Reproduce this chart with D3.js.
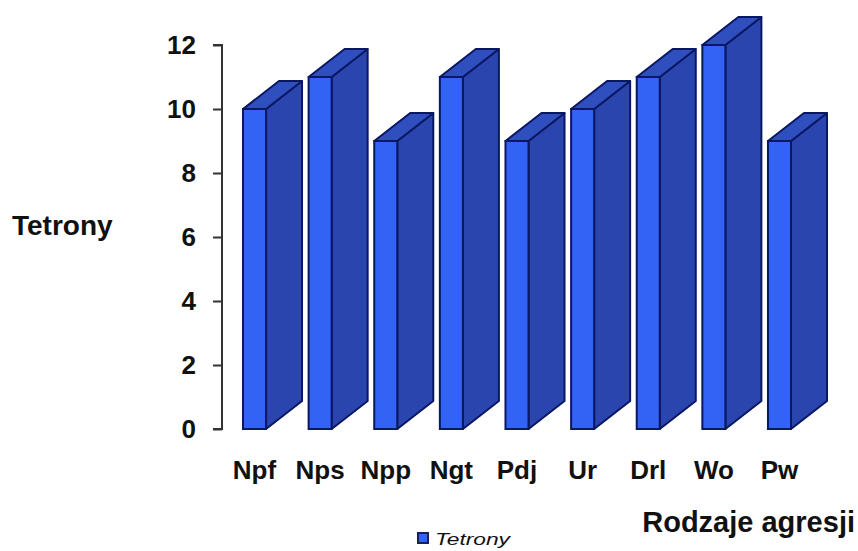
<!DOCTYPE html>
<html>
<head>
<meta charset="utf-8">
<script src="https://cdn.jsdelivr.net/npm/d3@7"></script>
<style>
  body { margin: 0; background: #fff; }
  text { font-family: Arial, "Liberation Sans", sans-serif; }
</style>
</head>
<body>
<script>
// dane
const categories = ["Npf", "Nps", "Npp", "Ngt", "Pdj", "Ur", "Drl", "Wo", "Pw"];
const values = [10, 11, 9, 11, 9, 10, 11, 12, 9];
const yTicks = [0, 2, 4, 6, 8, 10, 12];
const seriesName = "Tetrony";

const width = 858, height = 551;
const depthX = 36, depthY = 28;

const svg = d3.select("body")
  .append("svg")
  .attr("width", width)
  .attr("height", height);

const x = d3.scaleBand()
  .domain(categories)
  .range([243, 791])
  .paddingInner(0.649)
  .paddingOuter(0);

const y = d3.scaleLinear()
  .domain([0, 12])
  .range([429, 45]);

// oś Y
const yAxis = svg.append("g")
  .attr("transform", "translate(222,0)")
  .call(d3.axisLeft(y).tickValues(yTicks).tickSize(9).tickPadding(17));
yAxis.select(".domain").attr("stroke", "#333").attr("stroke-width", 2).attr("d", `M-9,${y(12)}H0V${y(0)}H-9`);
yAxis.selectAll(".tick line").attr("stroke", "#333").attr("stroke-width", 2);
yAxis.selectAll(".tick text")
  .attr("fill", "#111")
  .style("font-size", "26px")
  .style("font-weight", "bold")
  .style("font-family", "Arial, 'Liberation Sans', sans-serif");

// słupki 3D
const bars = svg.append("g")
  .selectAll("g")
  .data(categories.map((c, i) => ({ cat: c, val: values[i] })))
  .enter()
  .append("g");

const outline = "#0a1764";

// ściana boczna
bars.append("path")
  .attr("fill", "#2a45ad")
  .attr("stroke", outline)
  .attr("stroke-width", 2)
  .attr("stroke-linejoin", "round")
  .attr("d", (d) => {
    const x1 = x(d.cat) + x.bandwidth();
    return `M${x1},${y(d.val)}L${x1 + depthX},${y(d.val) - depthY}L${x1 + depthX},${y(0) - depthY}L${x1},${y(0)}Z`;
  });

// góra
bars.append("path")
  .attr("fill", "#2f4fbf")
  .attr("stroke", outline)
  .attr("stroke-width", 2)
  .attr("stroke-linejoin", "round")
  .attr("d", (d) => {
    const x0 = x(d.cat), x1 = x0 + x.bandwidth();
    const yt = y(d.val);
    return `M${x0},${yt}L${x0 + depthX},${yt - depthY}L${x1 + depthX},${yt - depthY}L${x1},${yt}Z`;
  });

// przód
bars.append("rect")
  .attr("x", (d) => x(d.cat))
  .attr("y", (d) => y(d.val))
  .attr("width", x.bandwidth())
  .attr("height", (d) => y(0) - y(d.val))
  .attr("fill", "#3263f4")
  .attr("stroke", outline)
  .attr("stroke-width", 2);

// etykiety kategorii
svg.append("g")
  .selectAll("text")
  .data(categories)
  .enter()
  .append("text")
  .attr("x", (d) => x(d) + x.bandwidth() / 2)
  .attr("y", 479)
  .attr("text-anchor", "middle")
  .attr("fill", "#111")
  .style("font-size", "26px")
  .style("font-weight", "bold")
  .text((d) => d);

// tytuły osi
svg.append("text")
  .attr("x", 12)
  .attr("y", 235)
  .attr("fill", "#111")
  .style("font-size", "28px")
  .style("font-weight", "bold")
  .text("Tetrony");

svg.append("text")
  .attr("x", 855)
  .attr("y", 532)
  .attr("text-anchor", "end")
  .attr("fill", "#111")
  .style("font-size", "29px")
  .style("font-weight", "bold")
  .text("Rodzaje agresji");

// legenda
svg.append("rect")
  .attr("x", 418)
  .attr("y", 533)
  .attr("width", 10)
  .attr("height", 10)
  .attr("fill", "#3263f4")
  .attr("stroke", "#1a1f5a")
  .attr("stroke-width", 2);

svg.append("text")
  .attr("x", 435)
  .attr("y", 545)
  .attr("fill", "#111")
  .attr("textLength", 75)
  .attr("lengthAdjust", "spacingAndGlyphs")
  .style("font-size", "17px")
  .style("font-style", "italic")
  .text(seriesName);
</script>
</body>
</html>
